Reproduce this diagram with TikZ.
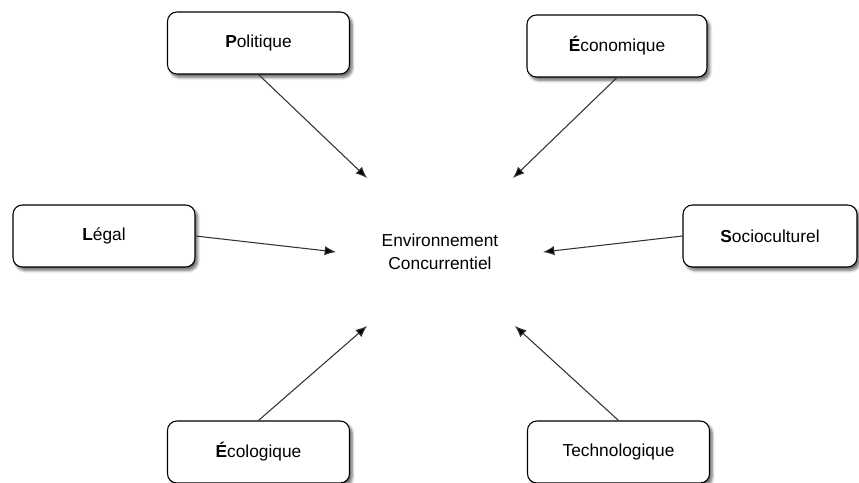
\documentclass[tikz,border=0pt]{standalone}
\usepackage{fontspec}
\setmainfont{Liberation Sans}
\usetikzlibrary{arrows.meta,shadows.blur}
\begin{document}
\begin{tikzpicture}[x=0.75pt,y=-0.75pt,
  pestbox/.style={draw=black, line width=0.8pt, fill=white, rounded corners=7pt,
    minimum width=182*0.75pt, minimum height=62*0.75pt, inner sep=0pt,
    font=\fontsize{13}{15}\selectfont,
    blur shadow={shadow xshift=2pt, shadow yshift=-2.5pt, shadow blur steps=6, shadow opacity=60}},
  arr/.style={draw=black!80, line width=0.8pt, -{Latex[length=8.5pt,width=7pt,fill=black]}}]
\useasboundingbox (0,0) rectangle (859,482);
\clip (0,0) rectangle (859,482);
\node[pestbox] (P) at (258.5,43) {{\bfseries P}olitique};
\node[pestbox, minimum width=180*0.75pt] (E) at (617,46) {{\bfseries É}conomique};
\node[pestbox] (L) at (104,236) {{\bfseries L}égal};
\node[pestbox, minimum width=174*0.75pt] (S) at (770,236) {{\bfseries S}ocioculturel};
\node[pestbox] (Ec) at (258.5,452) {{\bfseries É}cologique};
\node[pestbox] (T) at (618.5,452) {Technologique};
\node[align=center, font=\fontsize{13}{17.5}\selectfont] (C) at (440,252) {Environnement\\Concurrentiel};
\coordinate (tP) at (367,178);
\coordinate (tE) at (513,178);
\coordinate (tL) at (336,252);
\coordinate (tS) at (543,252);
\coordinate (tEc) at (367,326);
\coordinate (tT) at (515,326);
\draw[arr] (P.south) -- (tP);
\draw[arr] (E.south) -- (tE);
\draw[arr] (L.east) -- (tL);
\draw[arr] (S.west) -- (tS);
\draw[arr] (Ec.north) -- (tEc);
\draw[arr] (T.north) -- (tT);
\end{tikzpicture}
\end{document}
